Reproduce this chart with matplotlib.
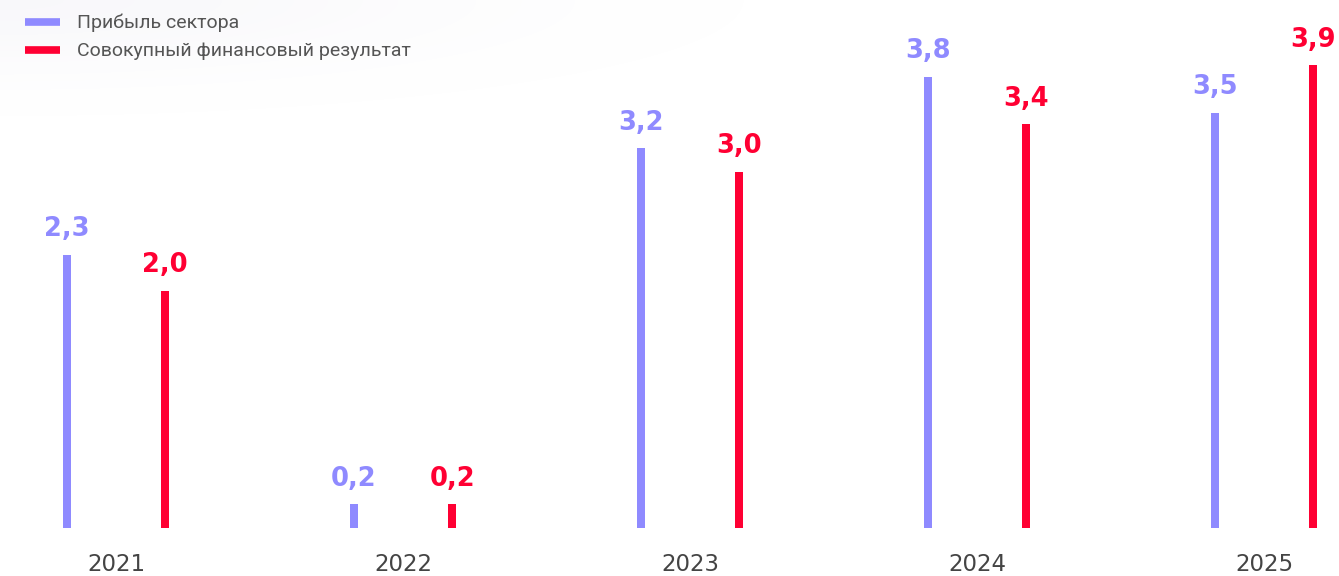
import numpy as np
import matplotlib
matplotlib.use("Agg")
import matplotlib.pyplot as plt

# Data (трлн руб.)
years = ["2021", "2022", "2023", "2024", "2025"]
sector_profit = [2.3, 0.2, 3.2, 3.8, 3.5]
total_result = [2.0, 0.2, 3.0, 3.4, 3.9]
series_names = ["Прибыль сектора", "Совокупный финансовый результат"]

c_profit = "#8F8AFF"
c_total = "#FF0033"

W, H, DPI = 1339, 576, 100
fig = plt.figure(figsize=(W / DPI, H / DPI), dpi=DPI)
fig.patch.set_facecolor("white")

# soft haze in the top-left corner
bg = fig.add_axes([0, 0, 1, 1], zorder=-1)
yy, xx = np.mgrid[0:H, 0:W]
d2 = (xx / 450.0) ** 2 + (yy / 70.0) ** 2
alpha = np.exp(-d2) * 0.06
img = np.zeros((H, W, 4))
img[..., 0] = 0.58
img[..., 1] = 0.55
img[..., 2] = 0.72
img[..., 3] = alpha
bg.imshow(img, aspect="auto", extent=(0, 1, 0, 1), origin="upper")
bg.set_axis_off()

ax = fig.add_axes([0, 0, 1, 1])
ax.set_facecolor("none")
x = np.arange(len(years))
off = 0.171
bw = 0.028
ax.bar(x - off, sector_profit, width=bw, color=c_profit, label=series_names[0])
ax.bar(x + off, total_result, width=bw, color=c_total, label=series_names[1])

ax.set_xlim(-0.404, 4.261)
ax.set_ylim(-0.404, 4.448)
ax.set_axis_off()

label_font = dict(fontsize=18.5, fontweight="bold", family="DejaVu Sans",
                  ha="center", va="bottom")
for xi, v in zip(x, sector_profit):
    ax.annotate(f"{v:.1f}".replace(".", ","), (xi - off, v), xytext=(0, 9),
                textcoords="offset points", color=c_profit, **label_font)
for xi, v in zip(x, total_result):
    ax.annotate(f"{v:.1f}".replace(".", ","), (xi + off, v), xytext=(0, 9),
                textcoords="offset points", color=c_total, **label_font)

for xi, yr in zip(x, years):
    ax.annotate(yr, (xi, 0), xytext=(0, -26.5), textcoords="offset points",
                ha="center", va="center", fontsize=16.5, color="#444444",
                family="DejaVu Sans")

# legend
for i, (name, col) in enumerate(zip(series_names, [c_profit, c_total])):
    ypix = 22 + 28 * i
    fig.add_artist(plt.Line2D([25 / W, 60 / W], [1 - ypix / H] * 2,
                              color=col, lw=5.5, solid_capstyle="butt"))
    fig.text(77 / W, 1 - (ypix + 1) / H, name, fontsize=14, color="#555555",
             family="Roboto", va="center", ha="left")

fig.savefig("out.png", dpi=DPI)
